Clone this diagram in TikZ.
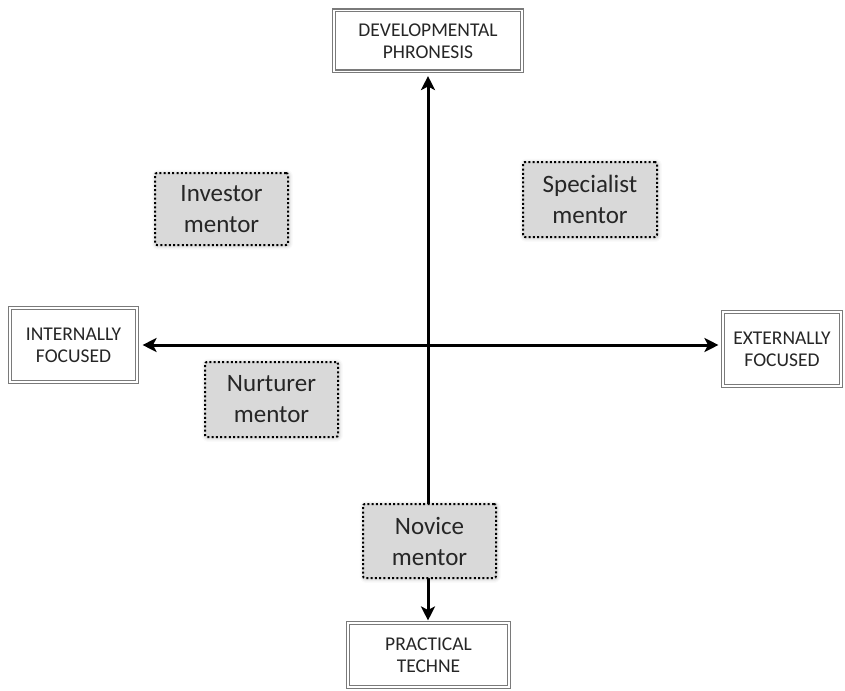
\documentclass[tikz,border=0pt]{standalone}
\usepackage{fontspec}
\setmainfont{Carlito}
\usetikzlibrary{arrows.meta,shadows.blur,backgrounds}

\definecolor{boxgray}{HTML}{D9D9D9}
\definecolor{inktext}{HTML}{262626}
\definecolor{rimgray}{HTML}{7A7A7A}

\tikzset{
  axislabel/.style={draw=rimgray, line width=1.1pt, double=white, double distance=1.8pt,
    fill=white, align=center, inner sep=0pt, text=inktext,
    font=\fontsize{19.5}{22}\selectfont},
  mentorbox/.style={draw=black, line width=2pt, dash pattern=on 2pt off 2.3pt, fill=boxgray,
    rounded corners=2pt, align=center, inner sep=0pt, text=inktext,
    minimum width=133pt, minimum height=74pt,
    font=\fontsize{25}{31}\selectfont,
    blur shadow={shadow xshift=0.8pt, shadow yshift=-0.8pt, shadow opacity=30, shadow blur radius=4pt}},
  axisline/.style={line width=3pt, {Stealth[length=14pt,width=14pt,inset=3.5pt]}-{Stealth[length=14pt,width=14pt,inset=3.5pt]}}
}

\begin{document}
\begin{tikzpicture}[x=1pt,y=-1pt]
  \useasboundingbox (0,0) rectangle (845,690);

  % axis end labels
  \node[axislabel, minimum width=188pt, minimum height=61pt] (top) at (428,41) {DEVELOPMENTAL\\PHRONESIS};
  \node[axislabel, minimum width=161pt, minimum height=64pt] (bottom) at (428.5,655) {PRACTICAL\\TECHNE};
  \node[axislabel, minimum width=127pt, minimum height=74pt] (left) at (73.5,345) {INTERNALLY\\FOCUSED};
  \node[axislabel, minimum width=118pt, minimum height=74pt] (right) at (782,349) {EXTERNALLY\\FOCUSED};

  % mentor types
  \node[mentorbox, minimum height=72pt] (investor) at (221.5,209) {Investor\\mentor};
  \node[mentorbox, minimum width=134pt, minimum height=75pt] (specialist) at (590,199.5) {Specialist\\mentor};
  \node[mentorbox, minimum height=75pt] (nurturer) at (271.5,399.5) {Nurturer\\mentor};
  \node[mentorbox] (novice) at (429.5,541) {Novice\\mentor};

  % the two axes, behind the boxes
  \begin{pgfonlayer}{background}
    \draw[axisline, shorten <=4pt, shorten >=2pt] (top.south) -- (top.south |- bottom.north);
    \draw[axisline, shorten <=5pt, shorten >=4pt] (left.east) -- (left.east -| right.west);
  \end{pgfonlayer}
\end{tikzpicture}
\end{document}
